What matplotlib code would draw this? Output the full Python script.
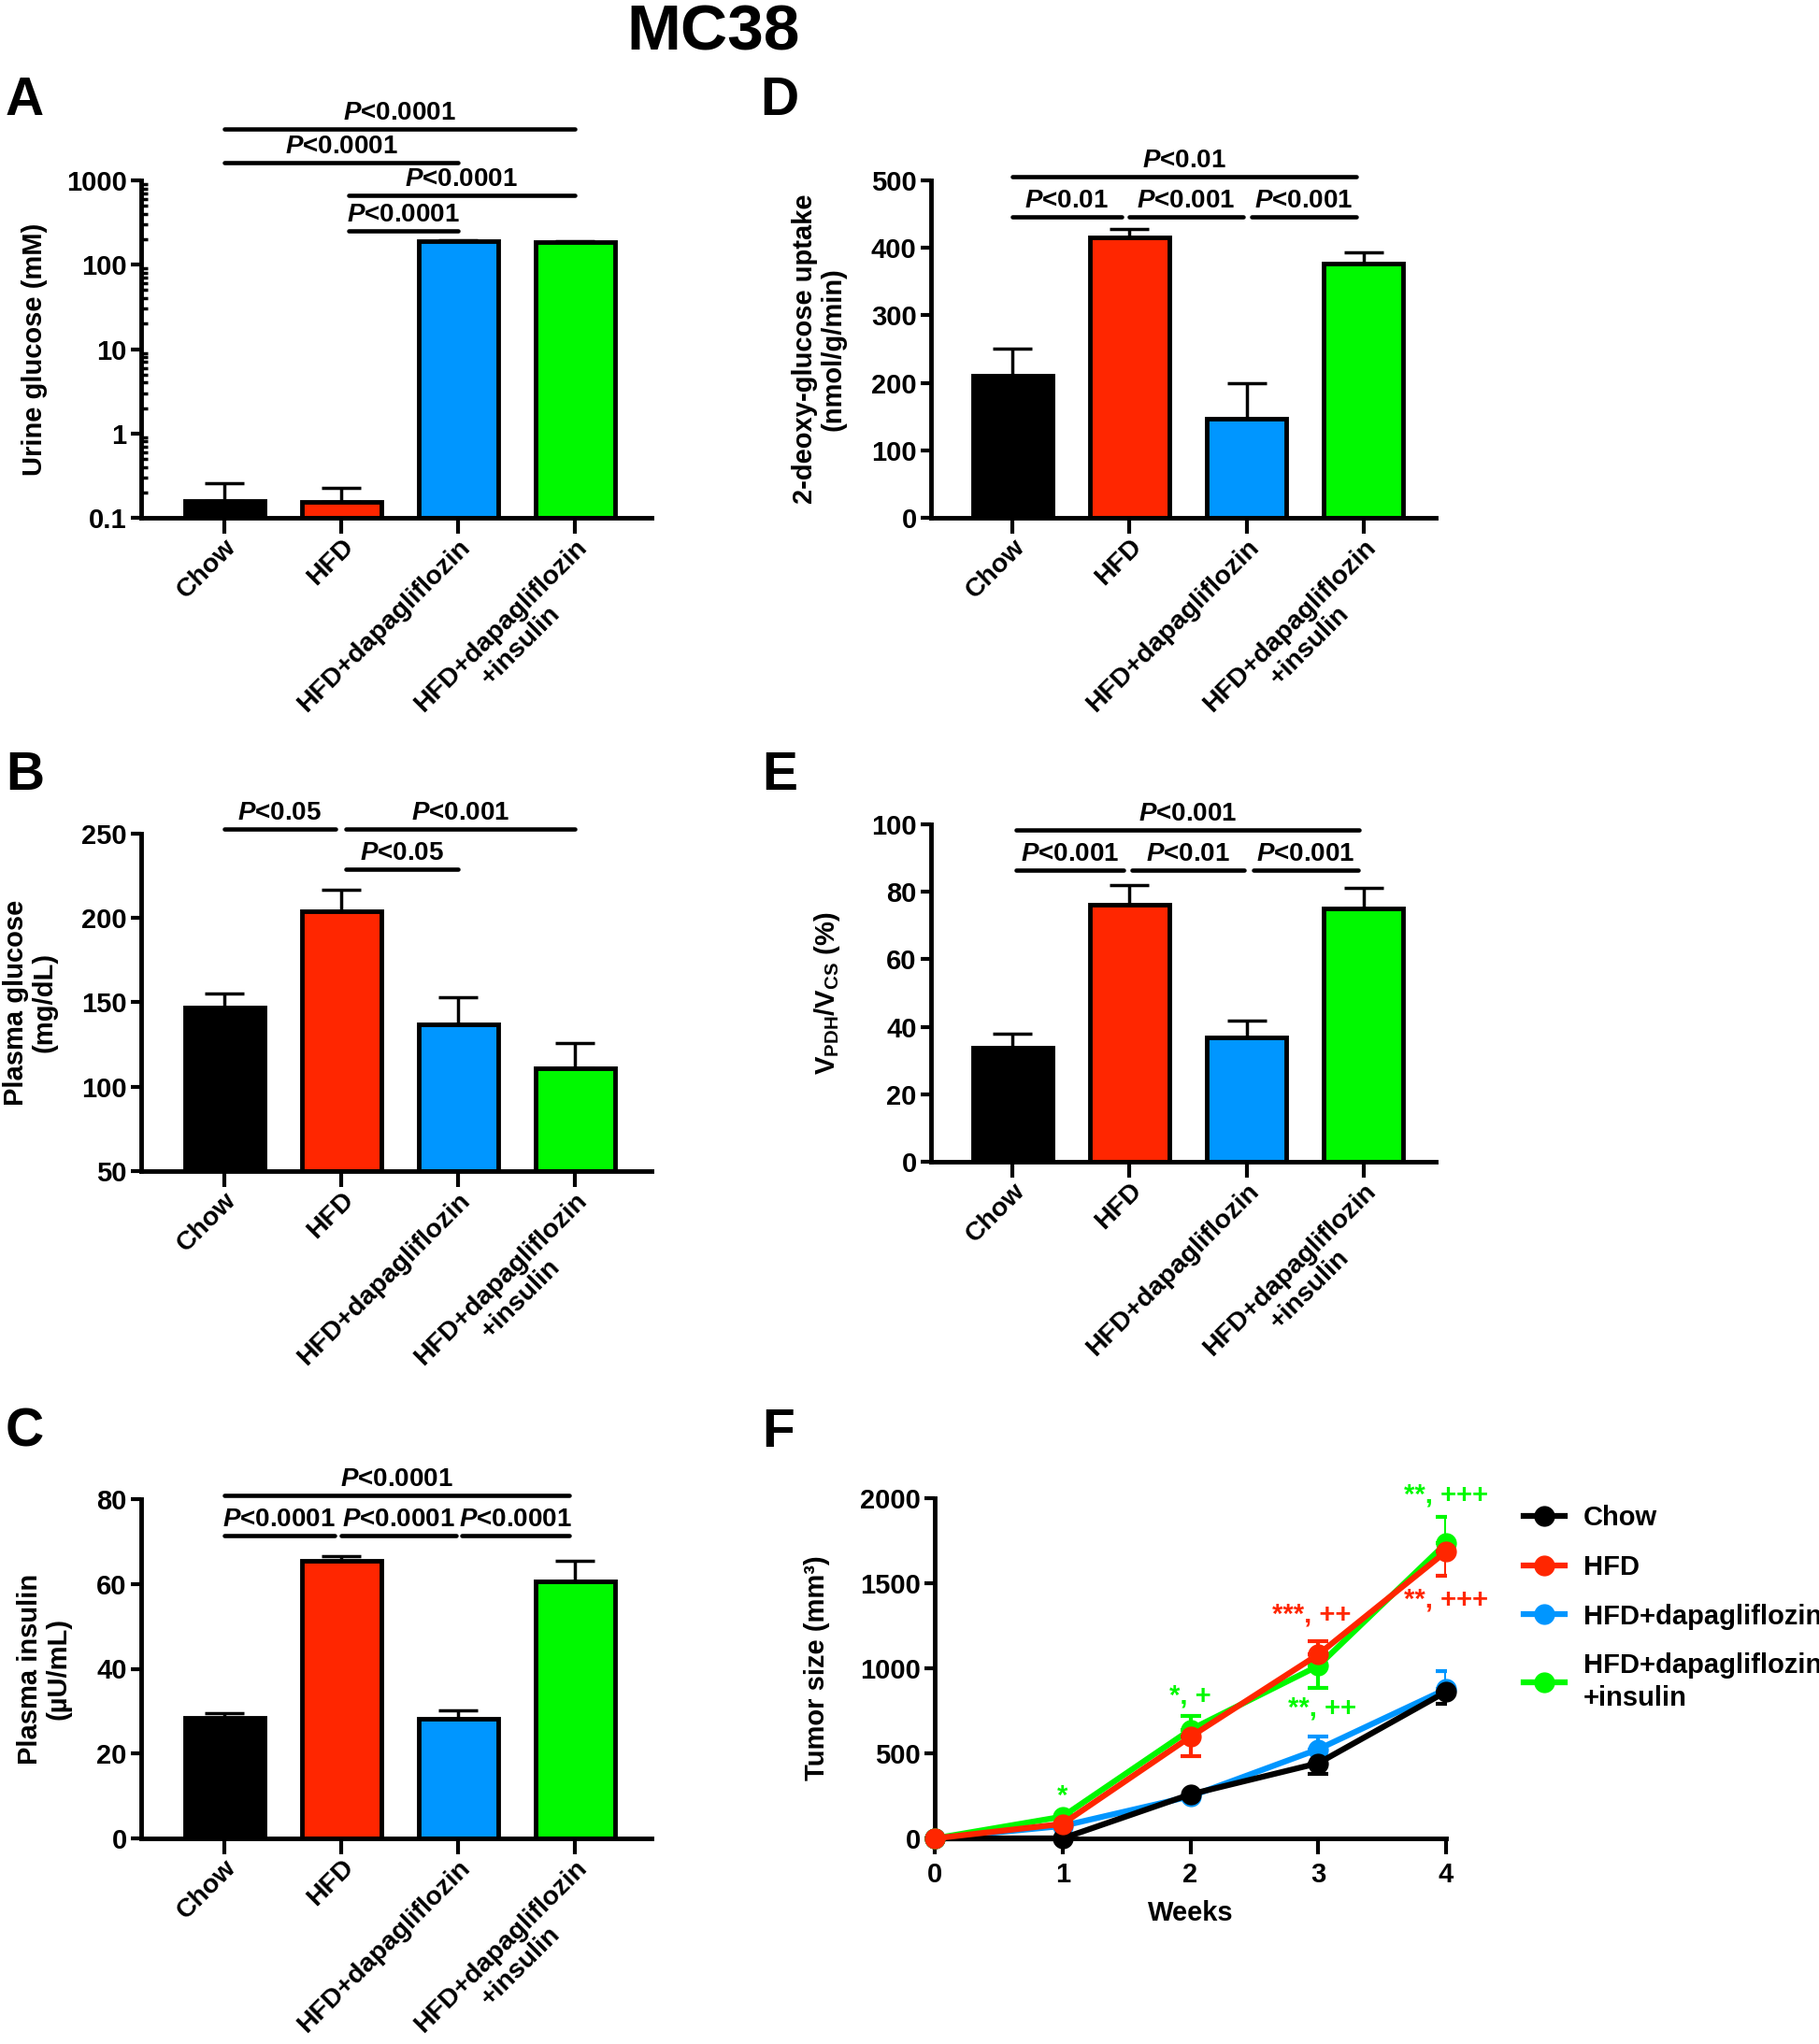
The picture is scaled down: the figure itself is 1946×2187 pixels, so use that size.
import numpy as np
import matplotlib.pyplot as plt
from matplotlib.lines import Line2D
from matplotlib.ticker import LogLocator, NullFormatter

plt.rcParams['font.family'] = ['Liberation Sans', 'DejaVu Sans']
plt.rcParams['font.weight'] = 'bold'
plt.rcParams['axes.labelweight'] = 'bold'
plt.rcParams['mathtext.fontset'] = 'custom'
plt.rcParams['mathtext.it'] = 'Liberation Sans:italic:bold'
plt.rcParams['mathtext.bf'] = 'Liberation Sans:bold'
plt.rcParams['mathtext.rm'] = 'Liberation Sans:bold'

# groups and colours
groups = ['Chow', 'HFD', 'HFD+dapagliflozin', 'HFD+dapagliflozin\n+insulin']
colors = ['#000000', '#FF2600', '#0096FF', '#00F900']

# bar panels (mean, upper SEM)
urine_glucose = [0.16, 0.155, 190, 186]
urine_glucose_err = [0.10, 0.07, 6, 5]
plasma_glucose = [147, 204, 137, 111]
plasma_glucose_err = [8, 13, 16, 15]
plasma_insulin = [28.5, 65.4, 28.2, 60.7]
plasma_insulin_err = [1.0, 1.2, 1.9, 4.8]
dg_uptake = [211, 415, 147, 377]
dg_uptake_err = [40, 13, 52, 16]
pdh_cs = [33.8, 76.3, 36.9, 75.0]
pdh_cs_err = [4.2, 5.7, 5.0, 6.3]

# tumor growth (only the visible half of each error bar)
weeks = [0, 1, 2, 3, 4]
tumor_chow = [0, 0, 259, 442, 862]
tumor_chow_lo = [0, 0, 0, 64, 73]
tumor_chow_hi = [0, 0, 0, 0, 0]
tumor_hfd = [0, 85, 597, 1081, 1686]
tumor_hfd_lo = [0, 0, 113, 0, 143]
tumor_hfd_hi = [0, 0, 0, 79, 0]
tumor_dapa = [0, 73, 247, 524, 877]
tumor_dapa_lo = [0, 0, 0, 0, 0]
tumor_dapa_hi = [0, 0, 0, 73, 106]
tumor_ins = [0, 128, 639, 1014, 1735]
tumor_ins_lo = [0, 0, 0, 132, 0]
tumor_ins_hi = [0, 0, 82, 0, 155]

W, H = 1946, 2187
fig = plt.figure(figsize=(W / 100, H / 100), dpi=100)


def add_ax(left, right, top, bottom):
    return fig.add_axes([left / W, 1 - bottom / H, (right - left) / W, (bottom - top) / H])


def style(ax):
    for s in ['top', 'right']:
        ax.spines[s].set_visible(False)
    for s in ['left', 'bottom']:
        ax.spines[s].set_linewidth(3.5)
    ax.tick_params(axis='y', which='major', direction='out', length=8, width=3, labelsize=21, pad=3)
    ax.tick_params(axis='x', which='major', direction='out', length=12, width=3, labelsize=21, pad=1)


def bar_panel(ax, vals, errs, xlim, ylim, base=0):
    x = np.arange(len(vals))
    ax.errorbar(x, vals, yerr=[np.zeros(len(errs)), errs], fmt='none', ecolor='black',
                elinewidth=2.5, capsize=15, capthick=2.5, zorder=1)
    ax.bar(x, np.array(vals) - base, bottom=base, width=0.68, color=colors,
           edgecolor='black', linewidth=3.5, zorder=2)
    ax.set_xlim(*xlim)
    ax.set_ylim(*ylim)
    style(ax)
    ax.set_xticks(x)
    ax.set_xticklabels(groups, rotation=45, ha='right', va='top', rotation_mode='anchor',
                       multialignment='center', fontsize=20.5)


def sig(ax, x1, x2, yf, label):
    tr = ax.get_xaxis_transform()
    ax.plot([x1, x2], [yf, yf], transform=tr, color='black', lw=3.3,
            solid_capstyle='round', clip_on=False)
    ax.annotate(label, xy=((x1 + x2) / 2, yf), xycoords=tr, xytext=(0, 3),
                textcoords='offset points', ha='center', va='bottom', fontsize=20)


def ylab(ax, text, xc, left, right):
    ax.set_ylabel(text, fontsize=21, va='center', linespacing=1.1)
    ax.yaxis.set_label_coords((xc - left) / (right - left), 0.5)


xl_left = (-0.712, 3.656)
xl_right = (-0.696, 3.616)

# A
axA = add_ax(151, 697, 193, 554)
axA.set_yscale('log')
bar_panel(axA, urine_glucose, urine_glucose_err, xl_left, (0.1, 1000), base=0.1)
axA.set_yticks([0.1, 1, 10, 100, 1000])
axA.set_yticklabels(['0.1', '1', '10', '100', '1000'])
axA.yaxis.set_minor_locator(LogLocator(base=10, subs=np.arange(2, 10)))
axA.yaxis.set_minor_formatter(NullFormatter())
axA.tick_params(axis='y', which='minor', direction='in', length=5, width=2.5)
ylab(axA, 'Urine glucose (mM)', 37, 151, 697)
sig(axA, 0, 3, 1.152, r'$\mathit{P}$<0.0001')
sig(axA, 0, 2, 1.052, r'$\mathit{P}$<0.0001')
sig(axA, 1.06, 3, 0.956, r'$\mathit{P}$<0.0001')
sig(axA, 1.06, 2, 0.851, r'$\mathit{P}$<0.0001')

# B
axB = add_ax(151, 697, 892, 1253)
bar_panel(axB, plasma_glucose, plasma_glucose_err, xl_left, (50, 250), base=50)
axB.set_yticks([50, 100, 150, 200, 250])
ylab(axB, 'Plasma glucose\n(mg/dL)', 32, 151, 697)
sig(axB, 0, 0.95, 1.014, r'$\mathit{P}$<0.05')
sig(axB, 1.04, 3, 1.014, r'$\mathit{P}$<0.001')
sig(axB, 1.04, 2, 0.894, r'$\mathit{P}$<0.05')

# C
axC = add_ax(151, 697, 1604, 1967)
bar_panel(axC, plasma_insulin, plasma_insulin_err, xl_left, (0, 80))
axC.set_yticks([0, 20, 40, 60, 80])
ylab(axC, 'Plasma insulin\n(\u00b5U/mL)', 47, 151, 697)
sig(axC, 0, 2.95, 1.01, r'$\mathit{P}$<0.0001')
sig(axC, 0, 0.94, 0.892, r'$\mathit{P}$<0.0001')
sig(axC, 1.0, 1.98, 0.892, r'$\mathit{P}$<0.0001')
sig(axC, 2.03, 2.95, 0.892, r'$\mathit{P}$<0.0001')

# D
axD = add_ax(996, 1536, 193, 554)
bar_panel(axD, dg_uptake, dg_uptake_err, xl_right, (0, 500))
axD.set_yticks([0, 100, 200, 300, 400, 500])
ylab(axD, '2-deoxy-glucose uptake\n(nmol/g/min)', 876, 996, 1536)
sig(axD, 0, 2.94, 1.011, r'$\mathit{P}$<0.01')
sig(axD, 0, 0.93, 0.892, r'$\mathit{P}$<0.01')
sig(axD, 1.0, 1.97, 0.892, r'$\mathit{P}$<0.001')
sig(axD, 2.04, 2.94, 0.892, r'$\mathit{P}$<0.001')

# E
axE = add_ax(996, 1536, 882, 1243)
bar_panel(axE, pdh_cs, pdh_cs_err, xl_right, (0, 100))
axE.set_yticks([0, 20, 40, 60, 80, 100])
ylab(axE, r'$\mathbf{V_{PDH}/V_{CS}}$ (%)', 885, 996, 1536)
sig(axE, 0.03, 2.96, 0.983, r'$\mathit{P}$<0.001')
sig(axE, 0.03, 0.95, 0.864, r'$\mathit{P}$<0.001')
sig(axE, 1.02, 1.98, 0.864, r'$\mathit{P}$<0.01')
sig(axE, 2.06, 2.95, 0.864, r'$\mathit{P}$<0.001')

# F
axF = add_ax(1000, 1547, 1603, 1967)
series = [
    ('HFD+dapagliflozin', tumor_dapa, tumor_dapa_lo, tumor_dapa_hi, colors[2], 3),
    ('Chow', tumor_chow, tumor_chow_lo, tumor_chow_hi, colors[0], 4),
    ('HFD+dapagliflozin\n+insulin', tumor_ins, tumor_ins_lo, tumor_ins_hi, colors[3], 5),
    ('HFD', tumor_hfd, tumor_hfd_lo, tumor_hfd_hi, colors[1], 6),
]
for name, y, lo, hi, c, z in series:
    axF.plot(weeks, y, color=c, lw=4.5, marker='o', markersize=15, zorder=z, clip_on=False)
    idx = [i for i in range(len(weeks)) if lo[i] > 0 or hi[i] > 0]
    axF.errorbar([weeks[i] for i in idx], [y[i] for i in idx],
                 yerr=[[lo[i] for i in idx], [hi[i] for i in idx]], fmt='none',
                 ecolor=c, elinewidth=3, capsize=8, capthick=3, zorder=z)
axF.set_xlim(0, 4)
axF.set_ylim(0, 2000)
style(axF)
axF.tick_params(axis='x', pad=6)
axF.set_xticks(weeks)
axF.set_yticks([0, 500, 1000, 1500, 2000])
axF.set_xlabel('Weeks', fontsize=21, va='center')
axF.xaxis.set_label_coords(0.5, (1967 - 2047) / 364)
ylab(axF, 'Tumor size (mm\u00b3)', 874, 1000, 1547)

notes = [
    (1.0, 247, '*', colors[3]),
    (2.0, 840, '*, +', colors[3]),
    (2.95, 1315, '***, ++', colors[1]),
    (3.03, 767, '**, ++', colors[3]),
    (4.0, 2018, '**, +++', colors[3]),
    (4.0, 1406, '**, +++', colors[1]),
]
for x, y, t, c in notes:
    axF.text(x, y, t, color=c, ha='center', va='center', fontsize=21, clip_on=False)

handles = [Line2D([], [], color=colors[i], lw=4.5, marker='o', markersize=15) for i in range(4)]
leg = axF.legend(handles, groups, loc='upper left',
                 bbox_to_anchor=((1630 - 1000) / 547, (1967 - 1610) / 364),
                 frameon=False, fontsize=21, borderpad=0, borderaxespad=0, handlelength=1.5,
                 handletextpad=0.7, labelspacing=0.85)
for t in leg.get_texts():
    t.set_linespacing(1.3)

# title and panel letters
fig.text(763 / W, 1 - 53 / H, 'MC38', ha='center', va='baseline', fontsize=50)
for letter, x, y in [('A', 6, 123), ('D', 813, 123), ('B', 6, 845), ('E', 815, 845),
                     ('C', 6, 1548), ('F', 815, 1548)]:
    fig.text(x / W, 1 - y / H, letter, ha='left', va='baseline', fontsize=41)

fig.savefig('out.png', dpi=100)
